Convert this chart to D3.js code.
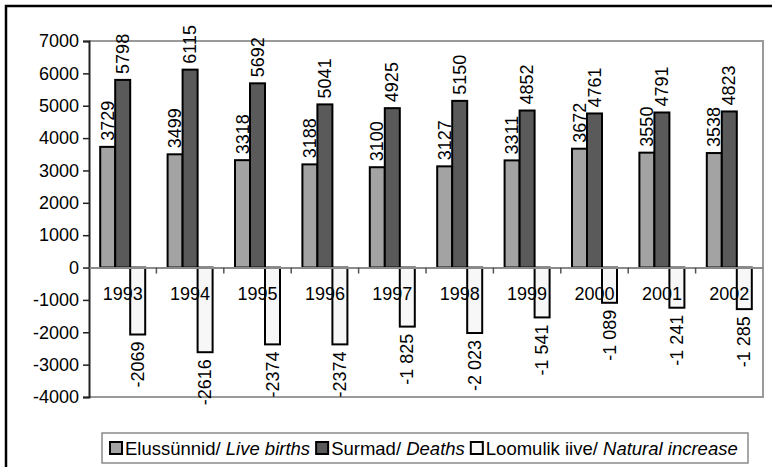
<!DOCTYPE html>
<html>
<head>
<meta charset="utf-8">
<script src="https://cdn.jsdelivr.net/npm/d3@7"></script>
<style>
  body { margin: 0; background: #fff; }
  text { font-family: "Liberation Sans", Arial, sans-serif; fill: #000; }
</style>
</head>
<body>
<script>
const years = ["1993", "1994", "1995", "1996", "1997", "1998", "1999", "2000", "2001", "2002"];
const births = [3729, 3499, 3318, 3188, 3100, 3127, 3311, 3672, 3550, 3538];
const deaths = [5798, 6115, 5692, 5041, 4925, 5150, 4852, 4761, 4791, 4823];
const natural = [-2069, -2616, -2374, -2374, -1825, -2023, -1541, -1089, -1241, -1285];
const yTicks = [-4000, -3000, -2000, -1000, 0, 1000, 2000, 3000, 4000, 5000, 6000, 7000];

const series = [
  { key: "births", values: births, fill: "#a3a3a3", name: "Elussünnid/ ", nameEn: "Live births" },
  { key: "deaths", values: deaths, fill: "#5a5a5a", name: "Surmad/ ", nameEn: "Deaths" },
  { key: "natural", values: natural, fill: "#f7f7f7", name: "Loomulik iive/ ", nameEn: "Natural increase" }
];

const width = 772, height = 467;
const plot = { left: 89, right: 763, top: 41, bottom: 397 };

const svg = d3.select("body").append("svg")
  .attr("width", width)
  .attr("height", height);

// outer frame (top + left visible)
svg.append("path")
  .attr("d", `M6,${height} V6 H${width}`)
  .attr("fill", "none")
  .attr("stroke", "#000")
  .attr("stroke-width", 2.5);

const xScale = d3.scaleBand().domain(years).range([plot.left, plot.right]).padding(0);
const barW = 15;
const pad = (xScale.bandwidth() / barW - 3) / 2;
const xInner = d3.scaleBand().domain(series.map(s => s.key))
  .range([0, xScale.bandwidth()]).paddingInner(0).paddingOuter(pad);
const yScale = d3.scaleLinear().domain([-4000, 7000]).range([plot.bottom, plot.top]);

const loc = d3.formatLocale({ decimal: ",", thousands: " ", grouping: [3], currency: ["", ""], minus: "-" });
const plain = loc.format("d");
const spaced = loc.format(",");

// plot area border (gray top/right/bottom)
svg.append("path")
  .attr("d", `M${plot.left},${plot.top} H${plot.right} V${plot.bottom} H${plot.left}`)
  .attr("fill", "none")
  .attr("stroke", "#9a9a9a")
  .attr("stroke-width", 2);

// y axis
const yAxisG = svg.append("g")
  .attr("transform", `translate(${plot.left},0)`)
  .call(d3.axisLeft(yScale).tickValues(yTicks).tickSize(6).tickPadding(4).tickFormat(plain));
yAxisG.select(".domain").attr("stroke", "#222").attr("stroke-width", 2);
yAxisG.selectAll(".tick line").attr("stroke", "#222").attr("stroke-width", 1.5);
yAxisG.selectAll(".tick text")
  .style("font-family", "'Liberation Sans', Arial, sans-serif")
  .style("font-size", "18px")
  .attr("fill", "#000");

// bars
const groups = svg.append("g").selectAll("g.year")
  .data(years)
  .join("g")
  .attr("class", "year")
  .attr("transform", d => `translate(${xScale(d)},0)`);

const cells = groups.selectAll("g.cell")
  .data((y, i) => series.map(s => ({ key: s.key, fill: s.fill, v: s.values[i], i })))
  .join("g")
  .attr("class", "cell");

cells.append("rect")
  .attr("x", d => xInner(d.key))
  .attr("width", xInner.bandwidth())
  .attr("y", d => yScale(Math.max(0, d.v)))
  .attr("height", d => Math.abs(yScale(d.v) - yScale(0)))
  .attr("fill", d => d.fill)
  .attr("stroke", "#000")
  .attr("stroke-width", 2);

// zero line + category ticks
const x0Axis = svg.append("g")
  .attr("transform", `translate(0,${yScale(0)})`)
  .call(d3.axisBottom(xScale).tickSize(0).tickPadding(20).tickFormat(d => d));
x0Axis.select(".domain").attr("stroke", "#8a8a8a").attr("stroke-width", 2);
x0Axis.selectAll(".tick text")
  .style("font-family", "'Liberation Sans', Arial, sans-serif")
  .style("font-size", "18px")
  .attr("fill", "#000");
svg.append("g").selectAll("line")
  .data(years.slice(1))
  .join("line")
  .attr("x1", d => xScale(d)).attr("x2", d => xScale(d))
  .attr("y1", yScale(0)).attr("y2", yScale(0) + 6)
  .attr("stroke", "#555").attr("stroke-width", 1.5);

// value labels (later natural-increase labels use space grouping, as in the source)
const labelText = d => d.key === "natural" && d.i >= 4 ? spaced(d.v) : plain(d.v);

cells.append("text")
  .attr("transform", d => {
    const cx = xInner(d.key) + xInner.bandwidth() / 2 + 6;
    const y = d.v >= 0 ? yScale(d.v) - 6 : yScale(d.v) + 7;
    return `translate(${cx},${y}) rotate(-90)`;
  })
  .attr("text-anchor", d => d.v >= 0 ? "start" : "end")
  .style("font-size", "18px")
  .text(labelText);

// legend
const legend = svg.append("g");
legend.append("rect")
  .attr("x", 102).attr("y", 433)
  .attr("width", 646).attr("height", 30)
  .attr("fill", "#fff")
  .attr("stroke", "#8a8a8a")
  .attr("stroke-width", 1.5);

let lx = 110;
series.forEach(s => {
  legend.append("rect")
    .attr("x", lx).attr("y", 442)
    .attr("width", 12).attr("height", 12)
    .attr("fill", s.fill)
    .attr("stroke", "#000")
    .attr("stroke-width", 2);
  const t = legend.append("text")
    .attr("x", lx + 15).attr("y", 455)
    .style("font-size", "18.5px");
  t.append("tspan").text(s.name);
  t.append("tspan").style("font-style", "italic").text(s.nameEn);
  lx += 15 + t.node().getComputedTextLength() + 6;
});
</script>
</body>
</html>
